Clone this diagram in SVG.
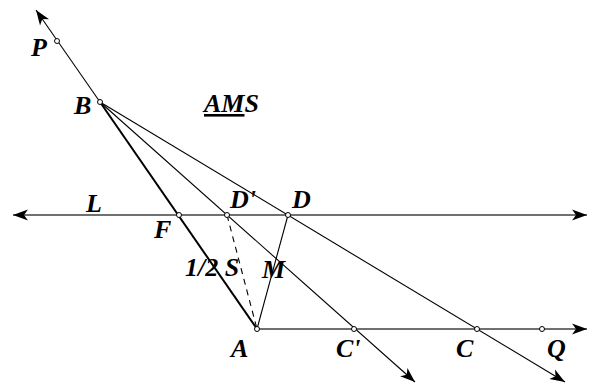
<svg xmlns="http://www.w3.org/2000/svg" width="595" height="386" viewBox="0 0 595 386">
<style>
text{font-family:'Liberation Serif','Times New Roman',serif;font-weight:700;font-style:italic;font-size:26px;fill:#000}
.ln{stroke:#000;stroke-width:1.1;fill:none}
.gr{stroke:#707070;stroke-width:2;fill:none}
.pt{fill:#fff;stroke:#000;stroke-width:1}
</style>
<defs>
<marker id="ar" markerUnits="userSpaceOnUse" markerWidth="20" markerHeight="14" viewBox="-16 -7 20 14" refX="0" refY="0" orient="auto">
<path d="M0,0 L-15,-5.5 L-11,0 L-15,5.5 Z" fill="#000"/>
</marker>
</defs>
<rect width="595" height="386" fill="#fff"/>
<g id="connectors">
<line class="gr" x1="300" y1="215" x2="13" y2="215" marker-end="url(#ar)"/>
<line class="gr" x1="300" y1="215" x2="587" y2="215" marker-end="url(#ar)"/>
<line class="gr" x1="257" y1="329" x2="587" y2="329" marker-end="url(#ar)"/>
<line class="ln" x1="257" y1="329" x2="100" y2="102" style="stroke-width:2"/>
<line class="ln" x1="100" y1="102" x2="36" y2="10" marker-end="url(#ar)"/>
<line class="ln" x1="100" y1="102" x2="415" y2="382" marker-end="url(#ar)"/>
<line class="ln" x1="100" y1="102" x2="565" y2="382" marker-end="url(#ar)"/>
<line class="ln" x1="288" y1="215" x2="257" y2="329"/>
<line class="ln" x1="227" y1="215" x2="257" y2="329" stroke-dasharray="6,5"/>
</g>
<g id="P"><circle class="pt" cx="57" cy="41" r="2.5"/><text x="31" y="56">P</text></g>
<g id="B"><circle class="pt" cx="100" cy="102" r="2.5"/><text x="74" y="114">B</text></g>
<g id="AMS"><text x="204" y="112"><tspan text-decoration="underline">AM</tspan>S</text></g>
<g id="L"><text x="86" y="212">L</text></g>
<g id="F"><circle class="pt" cx="179" cy="215" r="2.5"/><text x="154" y="238">F</text></g>
<g id="Dp"><circle class="pt" cx="227" cy="215" r="2.5"/><text x="230" y="208">D'</text></g>
<g id="D"><circle class="pt" cx="288" cy="215" r="2.5"/><text x="292" y="208">D</text></g>
<g id="halfS"><text x="185" y="276">1/2 S</text></g>
<g id="M"><text x="262" y="278">M</text></g>
<g id="A"><circle class="pt" cx="257" cy="329" r="2.5"/><text x="231" y="357">A</text></g>
<g id="Cp"><circle class="pt" cx="354" cy="329" r="2.5"/><text x="336" y="357">C'</text></g>
<g id="C"><circle class="pt" cx="477" cy="329" r="2.5"/><text x="456" y="357">C</text></g>
<g id="Q"><circle class="pt" cx="542" cy="329" r="2.5"/><text x="547" y="357">Q</text></g>
</svg>
